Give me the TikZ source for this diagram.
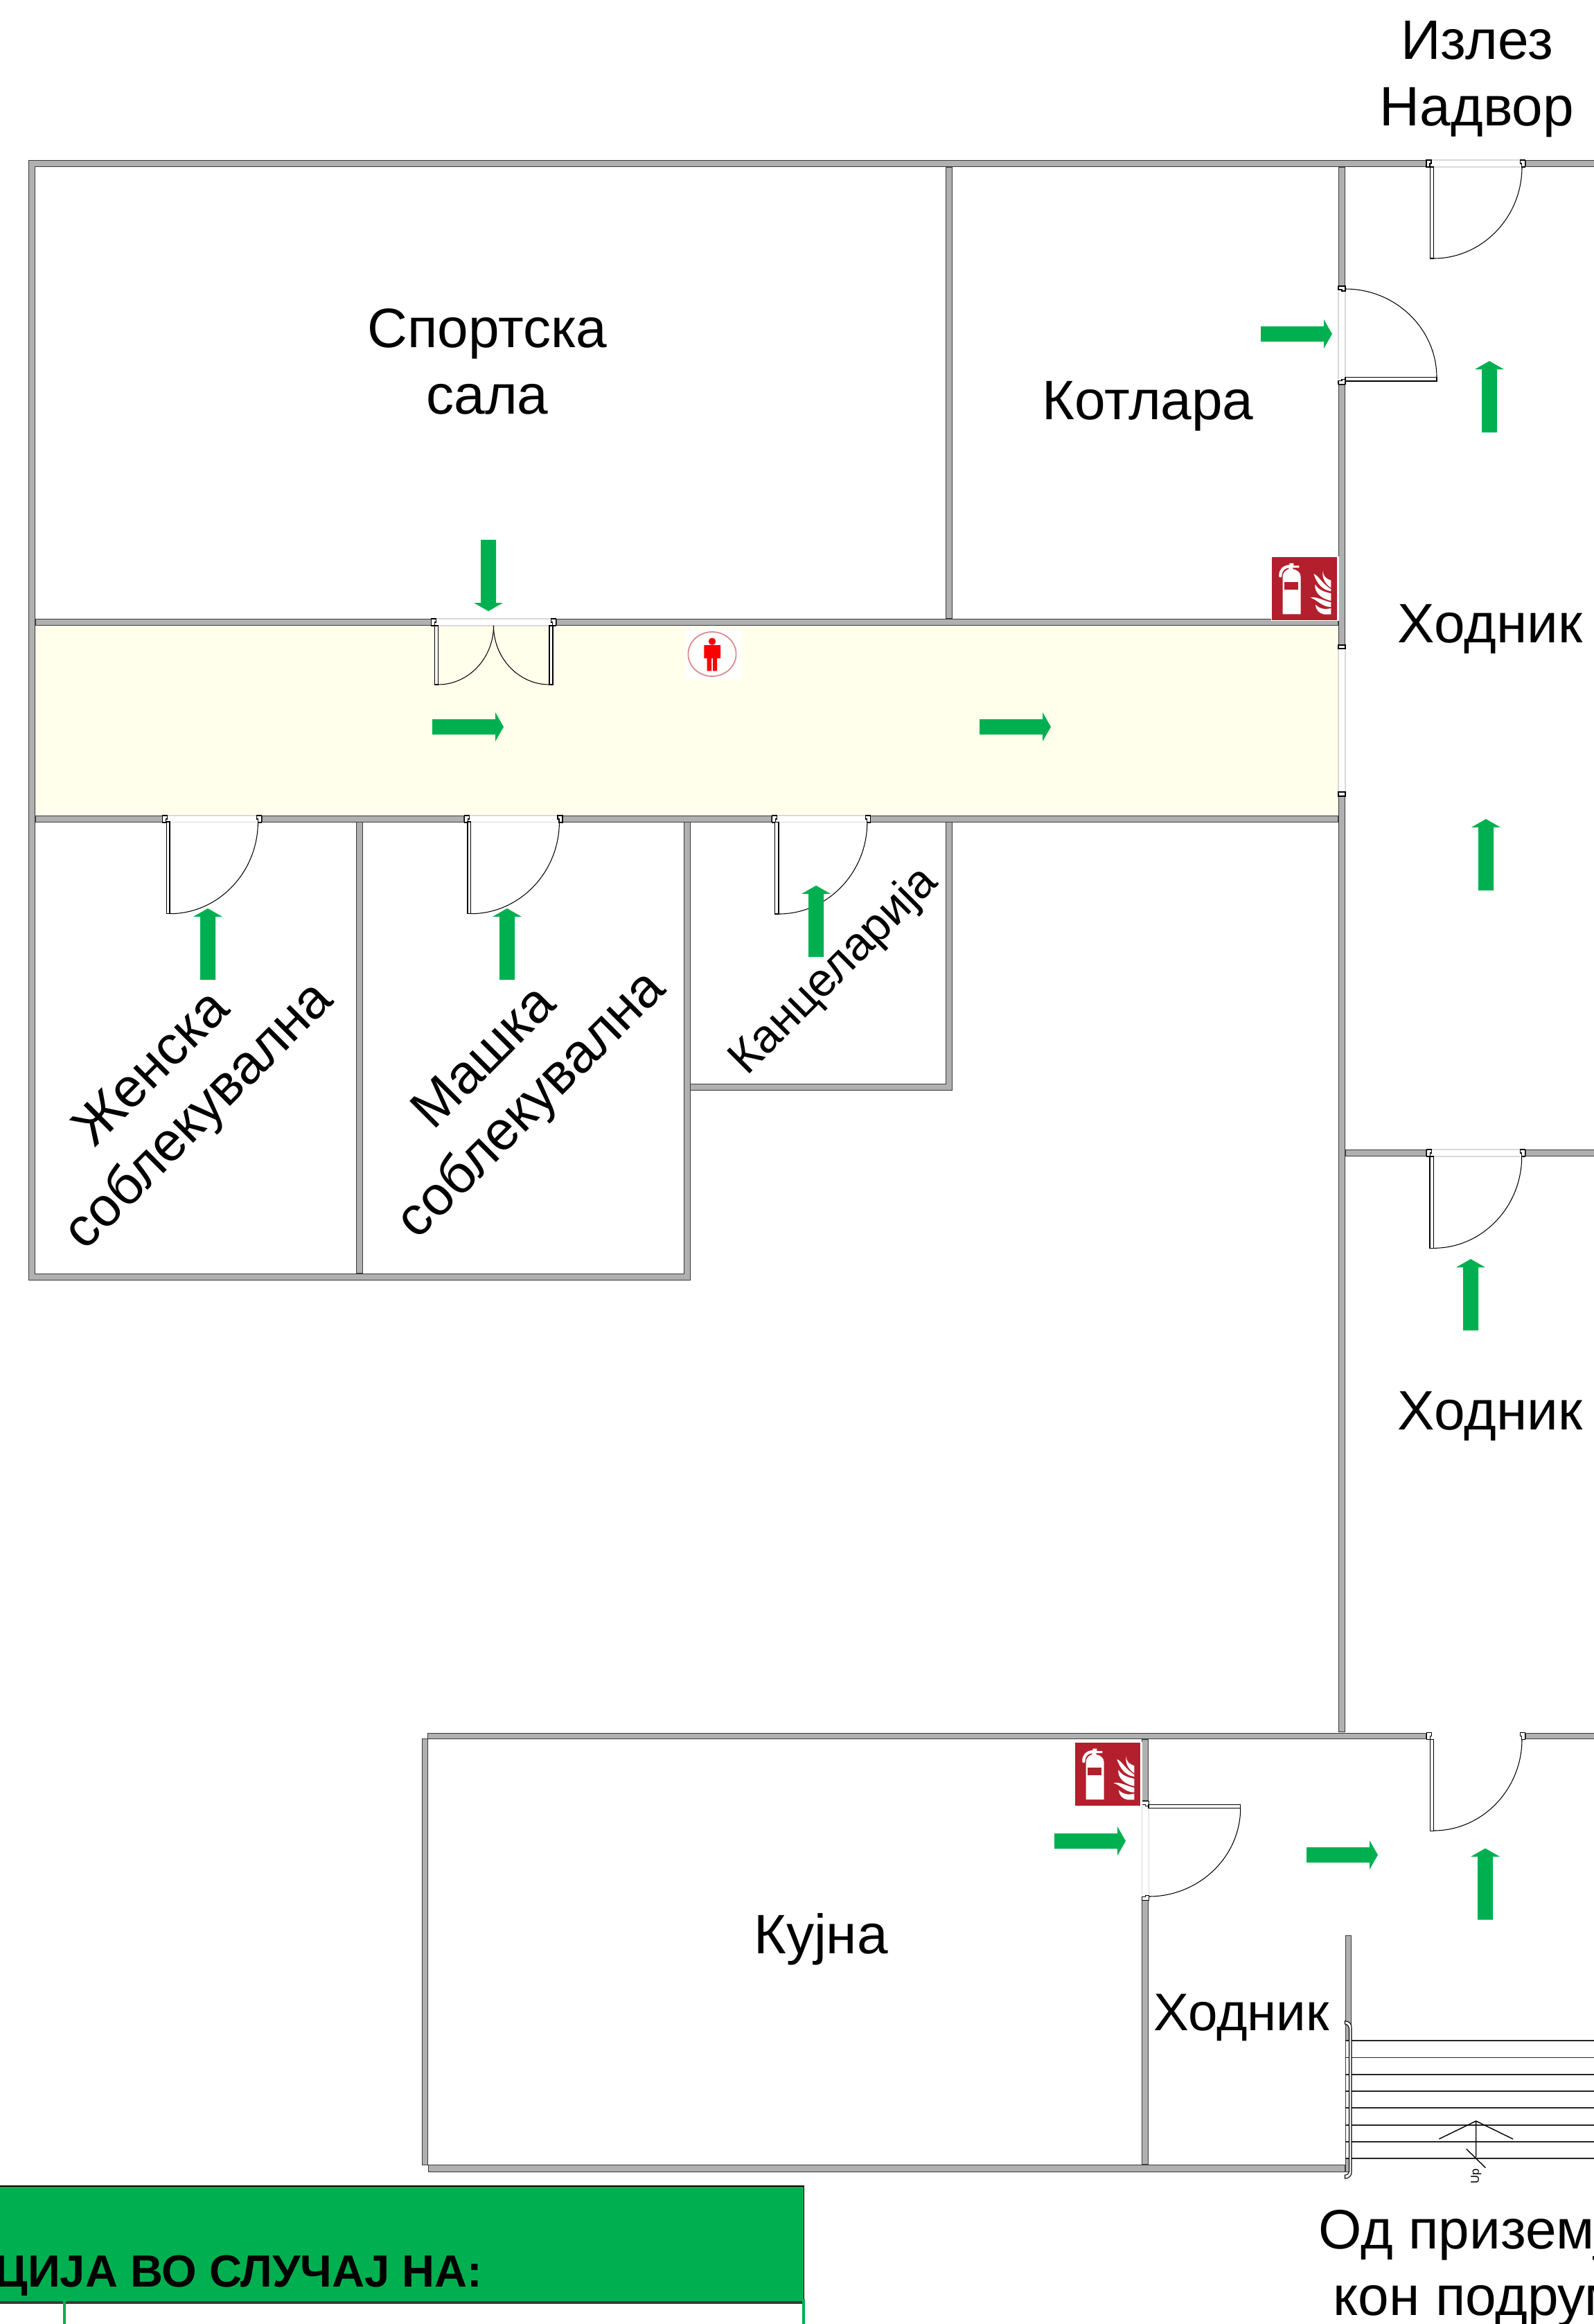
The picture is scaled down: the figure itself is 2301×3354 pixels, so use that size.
\documentclass[tikz,border=0pt]{standalone}
\usepackage{fontspec}
\setmainfont{Liberation Sans}
\definecolor{wallgrey}{HTML}{B0B0B0}
\definecolor{walledge}{HTML}{3A3A3A}
\definecolor{exitgreen}{HTML}{00B050}
\definecolor{corridor}{HTML}{FFFFEB}
\definecolor{signred}{HTML}{B41F2D}
\definecolor{paleline}{HTML}{D8D8D8}
\tikzset{
  doorline/.style={draw=black,line width=0.3pt},
  doorfill/.style={doorline,fill=white},
  gapline/.style={draw=paleline,line width=0.3pt},
  stairline/.style={draw=black!85,line width=0.45pt},
  lbl/.style={font=\fontsize{22.8}{27.3}\selectfont,align=center,inner sep=0pt,text=black},
  lblrot/.style={font=\fontsize{22.5}{27.3}\selectfont,align=center,inner sep=0pt,rotate=45},
}
\newcommand{\jamb}[4]{\begin{scope}[shift={(#1,#2)},rotate=#3,xscale=#4]
  \path[doorfill] (0,0)--(7,0)--(7,5)--(5,5)--(5,10)--(0,10)--cycle;\end{scope}}
\newcommand{\exitarrow}[3]{\begin{scope}[shift={(#1,#2)},rotate=#3]
  \fill[exitgreen] (0,-11)--(91,-11)--(91,-21)--(103,0)--(91,21)--(91,11)--(0,11)--cycle;\end{scope}}
\newcommand{\gapH}[4]{\fill[white] (#1,#3) rectangle (#2,#4);
  \draw[gapline] (#1,#3)--(#2,#3) (#1,#4)--(#2,#4);}
\newcommand{\gapV}[4]{\fill[white] (#1,#3) rectangle (#2,#4);
  \draw[gapline] (#1,#3)--(#1,#4) (#2,#3)--(#2,#4);}
\newcommand{\leaf}[4]{\path[doorfill] (#1,#2) rectangle (#3,#4);}
\newcommand{\qarc}[4]{\draw[doorline] (#1,#2) .. controls ({#1+.55*(#3-#1)},#2) and (#3,{#4+.55*(#2-#4)}) .. (#3,#4);}
\newcommand{\firesign}[2]{\begin{scope}[shift={(#1,#2)}]
  \fill[white] (-1,-1) rectangle (97,92);
  \fill[signred] (0,0) rectangle (94,90.5);
  \fill[white] (15.3,82) -- (15.3,28) .. controls (15.3,21) and (21,18) .. (24,17) -- (24,12) -- (30,12) -- (30,17) .. controls (36,18) and (41.3,22) .. (41.3,28) -- (41.3,82) -- cycle;
  \fill[white] (25,8.5) rectangle (31,13) (20,12) rectangle (39,15);
  \draw[white,line width=1.2pt,line cap=round] (12,27) .. controls (12,18) and (17,14) .. (24,13);
  \fill[signred] (18,36) rectangle (38,47);
  \fill[white] (73.7,19.3) .. controls (73,27) and (78,31) .. (85,33.3) -- (85,44) .. controls (77,39) and (71,29) .. (73.7,19.3) -- cycle;
  \fill[white] (60,24) .. controls (67,26) and (72,38) .. (85,46) -- (85,49) .. controls (72,47) and (65,38) .. (60,24) -- cycle;
  \fill[white] (62,39) .. controls (68,48) and (76,50) .. (85,52) -- (85,62.7) .. controls (72,60) and (61,52) .. (62,39) -- cycle;
  \fill[white] (55,58.3) .. controls (64,56) and (72,62) .. (85,65) -- (85,71.7) .. controls (72,72) and (64,60) .. (55,58.3) -- cycle;
  \fill[white] (62.7,68.3) .. controls (68,74) and (76,76) .. (85,73.5) -- (85,82.3) -- (75,82.3) .. controls (68,81) and (63,76) .. (62.7,68.3) -- cycle;
\end{scope}}
\newcommand{\walllist}{41/231/2059/241, 2201.5/231/2320/241, 41/231/51/1848,
 51/893/622.5/903, 802.5/893/1932/903,
 51/1177/234.7/1186.5, 377.5/1177/670.3/1186.5, 812/1177/1114.3/1186.5, 1256.4/1177/1932/1186.5,
 1365/241/1374.5/893,
 1932/241/1942/413, 1932/554.5/1942/931, 1932/1149/1942/2500,
 514/1186/523.6/1838, 986.5/1186/996.5/1848, 1364.6/1186/1374.6/1574, 996/1564/1374.6/1574,
 41/1838/996.5/1848,
 1942/1659/2059.3/1669, 2201.7/1659/2320/1669,
 617/2500.5/2059.3/2510, 2201.7/2500.5/2320/2510,
 608.5/2509/618/3125, 618/3124/1941.5/3134.5,
 1648.3/2510/1658.3/2599.3, 1648.3/2742.3/1658.3/3124,
 1941.5/2793.3/1951/3135}
\begin{document}
\begin{tikzpicture}[x=0.01cm,y=-0.01cm]
\clip (0,0) rectangle (2301,3354);
\fill[white] (0,0) rectangle (2301,3354);
% corridor floor
\fill[corridor] (51,903) rectangle (1932,1177);
% walls: edge pass, then fill pass so that junctions stay open
\foreach \a/\b/\c/\d in \walllist {\draw[walledge,line width=0.57pt] ({\a+1},{\b+1}) rectangle ({\c-1},{\d-1});}
\foreach \a/\b/\c/\d in \walllist {\fill[wallgrey] ({\a+1},{\b+1}) rectangle ({\c-1},{\d-1});}
% door openings
\gapH{2066}{2195}{231}{241}
\gapH{629.6}{795.4}{893}{903}
\gapH{242}{370}{1177}{1186.5}
\gapH{677}{805}{1177}{1186.5}
\gapH{1121.4}{1249}{1177}{1186.5}
\gapH{2066.7}{2194.3}{1659}{1669}
\fill[white] (2066.7,2500.5) rectangle (2194,2510);
\gapV{1932}{1942}{420}{547}
\gapV{1932}{1942}{936}{1143}
\gapV{1648.3}{1658.3}{2606.7}{2735}
% jambs
\jamb{2059}{231}{0}{1}\jamb{2201.5}{231}{0}{-1}
\jamb{622.5}{893}{0}{1}\jamb{802.5}{893}{0}{-1}
\jamb{234.7}{1177}{0}{1}\jamb{377.5}{1177}{0}{-1}
\jamb{670.3}{1177}{0}{1}\jamb{812}{1177}{0}{-1}
\jamb{1114.3}{1177}{0}{1}\jamb{1256.4}{1177}{0}{-1}
\jamb{2059.3}{1659}{0}{1}\jamb{2201.7}{1659}{0}{-1}
\jamb{2059.3}{2500.5}{0}{1}\jamb{2201.7}{2500.5}{0}{-1}
\jamb{1942}{413}{-90}{1}\jamb{1942}{554.5}{-90}{-1}
\jamb{1658.3}{2599.3}{-90}{1}\jamb{1658.3}{2742.3}{-90}{-1}
\path[doorfill] (1932,931) rectangle (1942,936);
\path[doorfill] (1932,1143) rectangle (1942,1149);
% door leaves and swings
\leaf{2064.5}{241}{2069.4}{373}\qarc{2069.4}{373}{2197}{241}
\leaf{1942}{544.6}{2074}{550}\qarc{1942}{417}{2074}{545}
\leaf{627.5}{903}{632.5}{988}\qarc{632.5}{988}{712.5}{903}
\leaf{793}{903}{798}{988}\qarc{793}{988}{712.5}{903}
\leaf{240.4}{1186}{245}{1318.7}\qarc{245}{1318.7}{372.4}{1186}
\leaf{675}{1186}{679.5}{1318.7}\qarc{679.5}{1318.7}{807.4}{1186}
\leaf{1118.6}{1186.7}{1124}{1319}\qarc{1124}{1319}{1251.8}{1186.7}
\leaf{2064}{1669}{2069.7}{1801.3}\qarc{2069.7}{1801.3}{2196.7}{1669}
\leaf{2064.3}{2510}{2069.3}{2642}\qarc{2069.3}{2642}{2197}{2510}
\leaf{1658}{2604.3}{1790.7}{2609.3}\qarc{1658}{2737}{1790.7}{2609.3}
% stairs
\fill[white] (1942.5,2945) rectangle (1947,3115);
\foreach \s in {2945,2969.3,2993.7,3018,3042,3066.7,3090.7,3115} {\draw[stairline] (1941.5,\s)--(1947.5,\s) (1951,\s)--(2301,\s);}
\path[doorfill] (1941.5,2916.7) .. controls (1947,2917) and (1951,2920) .. (1951,2926) -- (1951,3135) .. controls (1951,3140) and (1947,3144) .. (1941.5,3144) -- (1941.5,3139) .. controls (1945,3139) and (1947.5,3137) .. (1947.5,3134) -- (1947.5,2927) .. controls (1947.5,2924) and (1945,2922) .. (1941.5,2921) -- cycle;
\draw[doorline,line width=0.4pt] (2077.3,3087)--(2130.7,3061)--(2184,3087) (2130.7,3061)--(2130.7,3113) (2116.7,3101.3)--(2144.3,3128.4);
\node[rotate=90,inner sep=0pt,font=\fontsize{4.8}{5}\selectfont] (upmark) at (2130.7,3140.5) {Up};
% legend box
\fill[exitgreen] (0,3154) rectangle (1160,3322);
\draw[black,line width=0.7pt] (0,3155)--(1160,3155);
\draw[black,line width=0.25pt] (1160,3154)--(1160,3322);
\fill[white] (93,3324) rectangle (1160,3354);
\draw[walledge,line width=0.9pt] (0,3323)--(1160,3323);
\draw[exitgreen,line width=1.3pt] (93,3320)--(93,3354) (1160,3318)--(1160,3354);
\node[anchor=base east,inner sep=0pt,font=\fontsize{18.5}{22}\selectfont\bfseries] (legendtitle) at (697,3300) {АЦИЈА ВО СЛУЧАЈ НА:};
% exit arrows
\exitarrow{705}{779}{-90}
\exitarrow{624}{1049}{0}
\exitarrow{1414}{1049}{0}
\exitarrow{1820}{482}{0}
\exitarrow{1886}{2677}{0}
\exitarrow{1522}{2657}{0}
\exitarrow{2150}{624}{90}
\exitarrow{2145}{1285}{90}
\exitarrow{2123}{1920}{90}
\exitarrow{2144}{2770.5}{90}
\exitarrow{300}{1414}{90}
\exitarrow{732}{1414}{90}
\exitarrow{1178}{1381}{90}
% signs
\firesign{1836.3}{804.3}
\firesign{1552.3}{2515}
% occupant marker
\fill[white!96!corridor] (988.6,907.7) rectangle (1071,980);
\draw[red!25!pink!70!gray,line width=0.5pt] (1028,944) ellipse [x radius=34.6, y radius=32];
\fill[red] (1028,925.7) circle [radius=5.2];
\fill[red] (1016.4,931) rectangle (1040,950) (1020.7,945) rectangle (1027,968.3) (1029,945) rectangle (1035,968.3);
% labels
\node[lbl] (izlez) at (2132,114) {Излез\\Надвор};
\node[lbl] (sala) at (703.5,522) {Спортска\\сала};
\node[lbl] (kotlara) at (1657,586) {Котлара};
\node[lbl] (hodnik1) at (2151,908) {Ходник};
\node[lbl] (hodnik2) at (2151,2044) {Ходник};
\node[lbl] (kujna) at (1185,2799) {Кујна};
\node[lbl,font=\fontsize{21.7}{27}\selectfont] (hodnik3) at (1792,2912) {Ходник};
\node[lbl] (podrum) at (2134,3273) {Од приземје\\кон подрум};
\node[lblrot] (zenska) at (256,1579) {Женска\\соблекувална};
\node[lblrot] (maska) at (736,1563) {Машка\\соблекувална};
\node[lblrot,font=\fontsize{19.2}{23}\selectfont] (kanc) at (1205,1402) {Канцеларија};
\end{tikzpicture}
\end{document}
